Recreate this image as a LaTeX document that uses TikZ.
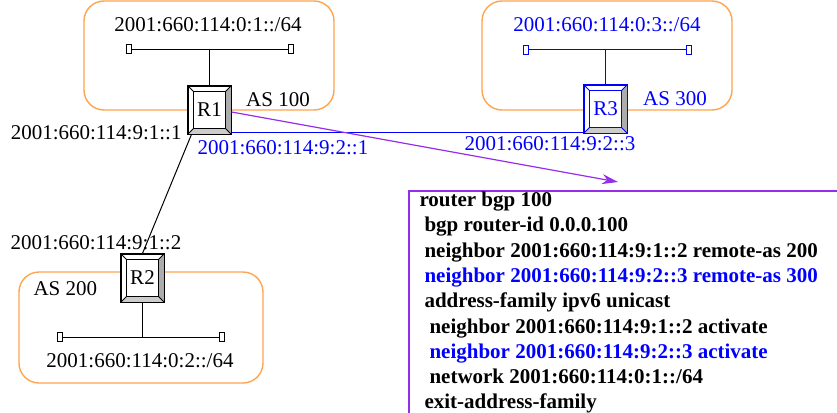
\documentclass[tikz,border=0pt]{standalone}
\usepackage{fontspec}
\setmainfont{Liberation Serif}
\usetikzlibrary{calc,arrows.meta}
\definecolor{asorange}{RGB}{255,165,80}
\definecolor{cfgpurple}{RGB}{150,45,235}
\definecolor{netblue}{RGB}{0,0,255}
\newcommand\drawbevel[2]{%
  \fill[gray!65] (#1.north east) -- (#1.south east) -- ($(#1.south east)+(-6,-6)$) -- ($(#1.north east)+(-6,6)$) -- cycle;
  \fill[gray!40] (#1.south west) -- (#1.south east) -- ($(#1.south east)+(-6,-6)$) -- ($(#1.south west)+(6,-6)$) -- cycle;
  \draw[#2, line width=1.2pt] (#1.north west) rectangle (#1.south east);
  \draw[#2, line width=1.2pt] ($(#1.north west)+(6,6)$) rectangle ($(#1.south east)+(-6,-6)$);
  \draw[#2, line width=0.9pt] (#1.north west) -- ($(#1.north west)+(6,6)$)
     (#1.north east) -- ($(#1.north east)+(-6,6)$)
     (#1.south west) -- ($(#1.south west)+(6,-6)$)
     (#1.south east) -- ($(#1.south east)+(-6,-6)$);
}
\begin{document}
\begin{tikzpicture}[x=1pt,y=-1pt, every node/.style={inner sep=0pt},
  font=\fontsize{21}{25}\selectfont, line width=1pt,
  asbox/.style={draw=asorange, line width=1.4pt, rounded corners=20pt},
  router/.style={draw, fill=white, minimum width=43pt, minimum height=48pt, line width=1.2pt},
  term/.style={draw, fill=white, minimum width=5pt, minimum height=9pt, line width=1pt},
  lbl/.style={anchor=base},
  cfg/.style={anchor=base west, font=\fontsize{21}{25}\selectfont\bfseries}]
\useasboundingbox (0,0) rectangle (837,412);
% AS boxes
\draw[asbox] (84,1) rectangle (334,110);
\draw[asbox] (482,1) rectangle (732,110);
\draw[asbox] (19,272) rectangle (263,383);
% routers
\node[router] (R1) at (209.5,110) {\raisebox{-2pt}{R1}};
\node[router, draw=netblue, text=netblue] (R3) at (605.5,109) {\raisebox{-2pt}{R3}};
\node[router] (R2) at (142.5,278) {\raisebox{-2pt}{R2}};
\drawbevel{R1}{black}
\drawbevel{R3}{netblue}
\drawbevel{R2}{black}
% LAN segments
\node[term] (t1a) at (128.5,49.5) {};
\node[term] (t1b) at (290.5,49.5) {};
\draw (t1a) -- (t1b);
\coordinate (m1) at (R1.north |- t1a);
\draw (m1) -- (R1.north);
\node[term, draw=netblue] (t3a) at (525.5,50) {};
\node[term, draw=netblue] (t3b) at (688.5,50) {};
\draw[netblue] (t3a) -- (t3b);
\coordinate (m3) at (R3.north |- t3a);
\draw[netblue] (m3) -- (R3.north);
\node[term] (t2a) at (59.5,337) {};
\node[term] (t2b) at (222,337) {};
\draw (t2a) -- (t2b);
\coordinate (m2) at (R2.south |- t2a);
\draw (R2.south) -- (m2);
% links
\draw[netblue] ([yshift=2pt]R1.south east) -- ([yshift=2pt]R1.south east -| R3.west);
\draw ([xshift=4pt]R1.south west) -- (R2.north);
\coordinate (tip) at (618,182);
\draw[cfgpurple, line width=1.2pt, -{Stealth[length=16pt,width=10pt]}] ([yshift=-2pt]R1.east) -- (tip);
% labels
\node[lbl] (n1) at (208,32) {2001:660:114:0:1::/64};
\node[lbl, text=netblue] (n3) at (607,32) {2001:660:114:0:3::/64};
\node[lbl] (as1) at (278,106) {AS 100};
\node[lbl, text=netblue] (as3) at (675,105) {AS 300};
\node[anchor=base east] (a11) at (182,139) {2001:660:114:9:1::1};
\node[anchor=base west, text=netblue] (a21) at (197,154) {2001:660:114:9:2::1};
\node[lbl, text=netblue] (a23) at (550,150) {2001:660:114:9:2::3};
\node[anchor=base west] (a12) at (10,249) {2001:660:114:9:1::2};
\node[anchor=base west] (as2) at (33,295) {AS 200};
\node[lbl] (n2) at (140,367) {2001:660:114:0:2::/64};
% config box
\coordinate (cfgtl) at (409,191);
\draw[cfgpurple, line width=1.5pt] (838,191) -- (cfgtl) -- (409,414);
\node[cfg] (c1) at (419,206) {router bgp 100};
\node[cfg] (c2) at (424,231.5) {bgp router-id 0.0.0.100};
\node[cfg] (c3) at (424,257) {neighbor 2001:660:114:9:1::2 remote-as 200};
\node[cfg, text=netblue] (c4) at (424,282.5) {neighbor 2001:660:114:9:2::3 remote-as 300};
\node[cfg] (c5) at (424,307.5) {address-family ipv6 unicast};
\node[cfg] (c6) at (429,333) {neighbor 2001:660:114:9:1::2 activate};
\node[cfg, text=netblue] (c7) at (429,358.3) {neighbor 2001:660:114:9:2::3 activate};
\node[cfg] (c8) at (429,383.5) {network 2001:660:114:0:1::/64};
\node[cfg] (c9) at (424,408.8) {exit-address-family};
\end{tikzpicture}
\end{document}
